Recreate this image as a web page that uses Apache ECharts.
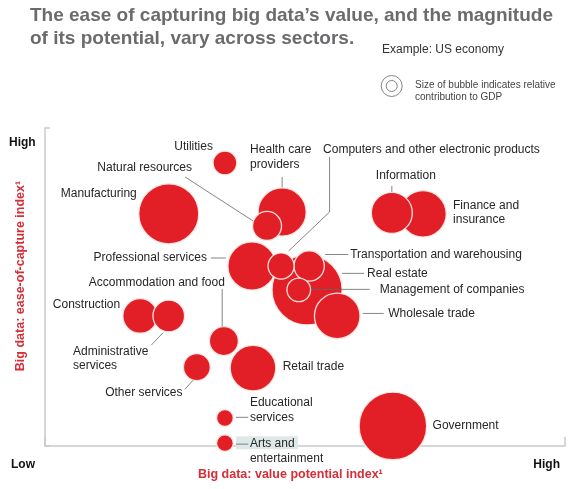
<!DOCTYPE html>
<html><head><meta charset="utf-8">
<script src="https://cdn.jsdelivr.net/npm/echarts@6/dist/echarts.min.js"></script>
<style>html,body{margin:0;padding:0;background:#fff}#c{width:581px;height:489px}</style>
</head><body><div id="c"></div>
<script>
// ---- Data ----
const sectors = ['Utilities','Health care providers','Natural resources','Manufacturing',
  'Computers and other electronic products','Information','Finance and insurance','Professional services',
  'Transportation and warehousing','Real estate','Management of companies','Wholesale trade',
  'Accommodation and food','Construction','Administrative services','Retail trade','Other services',
  'Educational services','Arts and entertainment','Government'];
const labelText = ['Utilities','Health care\nproviders','Natural resources','Manufacturing',
  'Computers and other electronic products','Information','Finance and\ninsurance','Professional services',
  'Transportation and warehousing','Real estate','Management of companies','Wholesale trade',
  'Accommodation and food','Construction','Administrative\nservices','Retail trade','Other services',
  'Educational\nservices','Arts and\nentertainment','Government'];
// value potential index (x), ease-of-capture index (y), relative contribution to GDP (bubble area)
const valuePotential = [34.6,45.6,42.7,23.8,45.4,66.7,72.7,39.8,50.8,50.4,48.8,56.2,34.4,18.3,23.8,40.0,29.2,34.6,34.6,66.9];
const easeOfCapture  = [89.0,73.6,69.2,73.0,56.6,73.3,73.0,56.6,56.6,49.1,49.1,40.9,33.0,40.9,40.9,24.5,24.8,8.8,0.9,6.3];
const gdpShare       = [1.4,5.8,2.1,9.0,1.7,4.2,5.4,5.8,2.3,12.3,1.4,5.2,2.1,3.0,2.5,5.2,1.8,0.7,0.7,11.4];
const axisMin = 0, axisMax = 100;
const lowLabel = 'Low', highLabel = 'High';
const xTitle = 'Big data: value potential index\u00B9';
const yTitle = 'Big data: ease-of-capture index\u00B9';
const titleText = 'The ease of capturing big data\u2019s value, and the magnitude\nof its potential, vary across sectors.';
const exampleText = 'Example: US economy';
const legendText = 'Size of bubble indicates relative\ncontribution to GDP';

// ---- Label placement (offsets from bubble centre, px) ----
const labelLayout = [
  {dx:-12, dy:-16, align:'right'},
  {dx:-32, dy:-55, align:'left', line:[[0,-35],[0,-25]]},
  {dx:-75, dy:-58, align:'right', line:[[-82,-49],[-14,-5]]},
  {dx:-32, dy:-20, align:'right'},
  {dx:42, dy:-116, align:'left', line:[[48.5,-109],[48.5,-54],[7.5,-15]]},
  {dx:-16, dy:-37, align:'left', line:[[0,-27],[0,-21]]},
  {dx:30, dy:-1, align:'left'},
  {dx:-45, dy:-8, align:'right', line:[[-41,-8],[-26,-8]]},
  {dx:41, dy:-11.5, align:'left', line:[[16,-11.5],[39,-11.5]]},
  {dx:60, dy:-16.5, align:'left', line:[[35,-16.5],[57,-16.5]]},
  {dx:81, dy:-0.5, align:'left', line:[[12.5,-0.5],[71,-0.5]]},
  {dx:51, dy:-2.5, align:'left', line:[[25.5,-2.5],[46.5,-2.5]]},
  {dx:1, dy:-58.7, align:'right', line:[[-1.7,-52],[-1.7,-14.5]]},
  {dx:-20, dy:-11.7, align:'right'},
  {dx:-95.7, dy:42.5, align:'left', line:[[-17.3,29],[-5.7,16.7]]},
  {dx:29.7, dy:-1.3, align:'left'},
  {dx:-14.3, dy:25.7, align:'right', line:[[-12,22.3],[-3.7,13]]},
  {dx:25, dy:-7.7, align:'left', line:[[11,-0.7],[23.3,-0.7]]},
  {dx:25, dy:8.2, align:'left', line:[[11,1],[23.3,1]], box:[11,-7,62,13]},
  {dx:39.7, dy:0, align:'left'}
];

const RED = '#e21f27';
const AXIS_RED = '#d42e36';
const FONT = '"Liberation Sans", Arial, Helvetica, sans-serif';

const order = sectors.map((s,i)=>i).sort((a,b)=>gdpShare[b]-gdpShare[a]);
const chart = echarts.init(document.getElementById('c'), null, {renderer:'canvas'});
chart.setOption({
  animation:false,
  backgroundColor:'#fff',
  grid:{left:45, right:16, top:128, bottom:43, containLabel:false},
  xAxis:{type:'value', min:axisMin, max:axisMax, interval:100,
    axisLine:{show:true, lineStyle:{color:'#c9cbcb', width:1.5}},
    axisTick:{show:true, inside:true, length:9, lineStyle:{color:'#c9cbcb', width:1.5}},
    axisLabel:{show:false}, splitLine:{show:false}},
  yAxis:{type:'value', min:axisMin, max:axisMax, interval:100,
    axisLine:{show:true, lineStyle:{color:'#c9cbcb', width:1.5}},
    axisTick:{show:true, inside:true, length:5, lineStyle:{color:'#c9cbcb', width:1.5}},
    axisLabel:{show:false}, splitLine:{show:false}},
  series:[{
    type:'scatter',
    data: order.map(i=>({name:sectors[i], value:[valuePotential[i], easeOfCapture[i], gdpShare[i]]})),
    symbolSize: v => 20*Math.sqrt(v[2]),
    itemStyle:{color:RED, opacity:1, borderColor:'rgba(255,232,228,0.95)', borderWidth:1.3},
    emphasis:{disabled:true}
  }]
});

const g = [];
g.push({type:'text', x:30, y:27.5, z:10, style:{text:titleText, font:'bold 19px '+FONT, fill:'#6a6b6d', align:'left', verticalAlign:'middle', lineHeight:23}});
g.push({type:'text', x:382, y:50, z:10, style:{text:exampleText, font:'12px '+FONT, fill:'#333', align:'left', verticalAlign:'middle'}});
g.push({type:'circle', z:10, shape:{cx:391.7, cy:86, r:10.5}, style:{fill:'none', stroke:'#666', lineWidth:0.8}});
g.push({type:'circle', z:10, shape:{cx:391.7, cy:86, r:5.5}, style:{fill:'none', stroke:'#666', lineWidth:0.8}});
g.push({type:'text', x:415, y:91, z:10, style:{text:legendText, font:'10px '+FONT, fill:'#444', align:'left', verticalAlign:'middle', lineHeight:12.5}});
g.push({type:'text', x:9, y:142.5, z:10, style:{text:highLabel, font:'bold 12px '+FONT, fill:'#111', align:'left', verticalAlign:'middle'}});
g.push({type:'text', x:11, y:464.5, z:10, style:{text:lowLabel, font:'bold 12px '+FONT, fill:'#111', align:'left', verticalAlign:'middle'}});
g.push({type:'text', x:560, y:464.5, z:10, style:{text:highLabel, font:'bold 12px '+FONT, fill:'#111', align:'right', verticalAlign:'middle'}});
g.push({type:'text', x:198, y:475, z:10, style:{text:xTitle, font:'bold 12.5px '+FONT, fill:AXIS_RED, align:'left', verticalAlign:'middle'}});
g.push({type:'text', x:21, y:276, rotation:Math.PI/2, z:10, style:{text:yTitle, font:'bold 12.5px '+FONT, fill:AXIS_RED, align:'center', verticalAlign:'middle'}});

sectors.forEach((s,i)=>{
  const p = chart.convertToPixel({gridIndex:0}, [valuePotential[i], easeOfCapture[i]]);
  const L = labelLayout[i];
  if (L.box) g.push({type:'rect', z:9, shape:{x:p[0]+L.box[0], y:p[1]+L.box[1], width:L.box[2], height:L.box[3]}, style:{fill:'#dfe8e8'}});
  if (L.line) g.push({type:'polyline', z:10, shape:{points:L.line.map(q=>[p[0]+q[0], p[1]+q[1]])}, style:{stroke:'#666', lineWidth:0.8, fill:'none'}});
  g.push({type:'text', x:p[0]+L.dx, y:p[1]+L.dy, z:11, style:{text:labelText[i], font:'12px '+FONT, fill:'#262626', align:L.align, verticalAlign:'middle', lineHeight:14.5}});
});
chart.setOption({graphic:g});
</script>
</body></html>
